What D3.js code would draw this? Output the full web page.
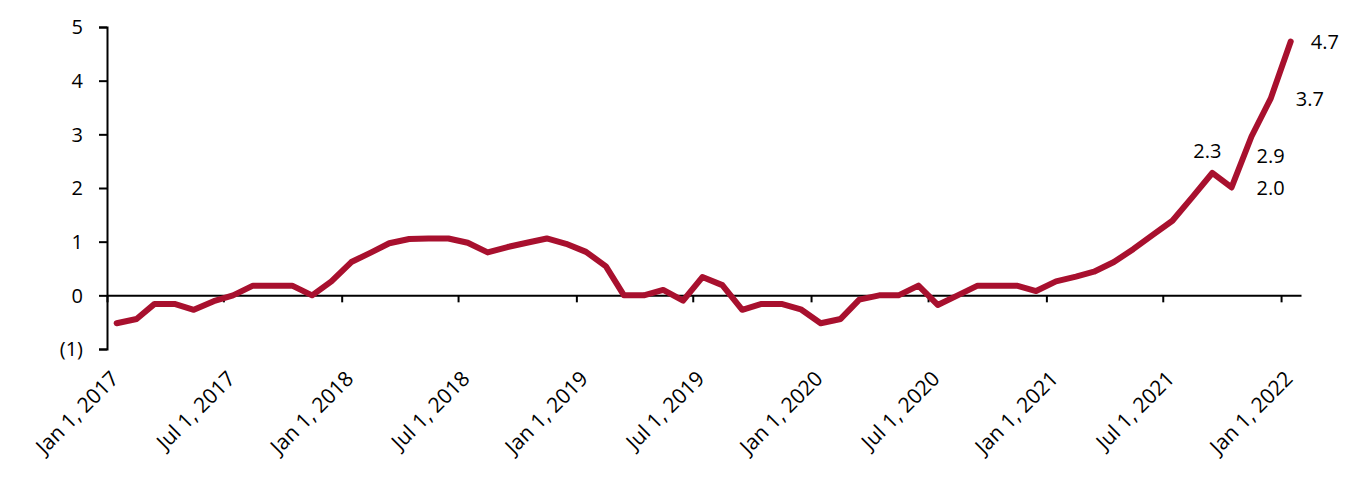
<!DOCTYPE html>
<html><head><meta charset="utf-8">
<script src="https://cdn.jsdelivr.net/npm/d3@7"></script>
<style>
html,body{margin:0;padding:0;background:#fff;}
svg{display:block;}
text{font-family:"Open Sans","Noto Sans",sans-serif;fill:#000;}
</style></head>
<body><svg id="chart" width="1363" height="480"></svg>
<script>
const months = [
 "2017-01","2017-02","2017-03","2017-04","2017-05","2017-06","2017-07","2017-08","2017-09","2017-10","2017-11","2017-12",
 "2018-01","2018-02","2018-03","2018-04","2018-05","2018-06","2018-07","2018-08","2018-09","2018-10","2018-11","2018-12",
 "2019-01","2019-02","2019-03","2019-04","2019-05","2019-06","2019-07","2019-08","2019-09","2019-10","2019-11","2019-12",
 "2020-01","2020-02","2020-03","2020-04","2020-05","2020-06","2020-07","2020-08","2020-09","2020-10","2020-11","2020-12",
 "2021-01","2021-02","2021-03","2021-04","2021-05","2021-06","2021-07","2021-08","2021-09","2021-10","2021-11","2021-12",
 "2022-01"];
const values = [
 -0.52,-0.44,-0.16,-0.16,-0.27,-0.11,0.0,0.18,0.18,0.18,0.0,0.26,
 0.62,0.80,0.97,1.05,1.06,1.06,0.98,0.80,0.90,0.98,1.06,0.96,
 0.81,0.54,0.0,0.0,0.10,-0.10,0.34,0.19,-0.27,-0.16,-0.16,-0.26,
 -0.52,-0.44,-0.08,0.0,0.0,0.18,-0.18,0.0,0.18,0.18,0.18,0.08,
 0.26,0.35,0.44,0.62,0.86,1.13,1.39,1.83,2.28,2.01,2.96,3.67,
 4.73];
const yTicks = [-1,0,1,2,3,4,5];
const xTickDates = ["2017-01-01","2017-07-01","2018-01-01","2018-07-01","2019-01-01","2019-07-01","2020-01-01","2020-07-01","2021-01-01","2021-07-01","2022-01-01"];
const labelMonths = ["2021-09","2021-10","2021-11","2021-12","2022-01"];
const labelTexts  = ["2.3","2.0","2.9","3.7","4.7"];

const parseM = d3.timeParse("%Y-%m");
const parseD = d3.timeParse("%Y-%m-%d");
const mid = d => d3.timeDay.offset(parseM(d), 15);
const data = months.map((m,i)=>({date: mid(m), v: values[i]}));

const svg = d3.select("#chart");
const x = d3.scaleTime().domain([parseD("2017-01-01"), parseD("2022-02-01")]).range([107, 1301]);
const y = d3.scaleLinear().domain([-1,5]).range([349, 27]);

// y axis
const yAxis = d3.axisLeft(y).tickValues(yTicks).tickSize(8).tickPadding(16)
  .tickFormat(d => d < 0 ? "(" + Math.abs(d) + ")" : d);
const gy = svg.append("g").attr("transform","translate(107,0)").call(yAxis);
gy.select(".domain").attr("stroke","#000").attr("stroke-width",2);
gy.selectAll(".tick line").attr("stroke","#000").attr("stroke-width",2);
gy.selectAll(".tick text").style("font-size","20px").attr("dy","0.34em");

// x axis at zero
const xTicks = xTickDates.map(parseD);
const xAxis = d3.axisBottom(x).tickValues(xTicks).tickSize(7).tickFormat("").tickSizeOuter(0);
const gx = svg.append("g").attr("transform",`translate(0,${y(0)})`).call(xAxis);
gx.select(".domain").attr("stroke","#000").attr("stroke-width",2);
gx.selectAll(".tick line").attr("stroke","#000").attr("stroke-width",2);

// rotated x labels
const fmt = d3.timeFormat("%b %-d, %Y");
svg.append("g").selectAll("text").data(xTicks).join("text")
  .attr("transform", d => `translate(${x(d)+13},${380}) rotate(-45)`)
  .attr("text-anchor","end")
  .style("font-size","21px")
  .text(fmt);

// line
svg.append("path").datum(data)
  .attr("fill","none").attr("stroke","#a8102e").attr("stroke-width",6)
  .attr("stroke-linejoin","round").attr("stroke-linecap","round")
  .attr("d", d3.line().x(d=>x(d.date)).y(d=>y(d.v)));

// value labels
const offs = [[-5,-22,"middle"],[25,1,"start"],[5,20,"start"],[25,1,"start"],[20,1,"start"]];
labelMonths.forEach((m,i)=>{
  const d = data[months.indexOf(m)];
  svg.append("text")
    .attr("x", x(d.date)+offs[i][0]).attr("y", y(d.v)+offs[i][1])
    .attr("dy","0.35em").attr("text-anchor",offs[i][2])
    .style("font-size","20px").text(labelTexts[i]);
});
</script></body></html>
